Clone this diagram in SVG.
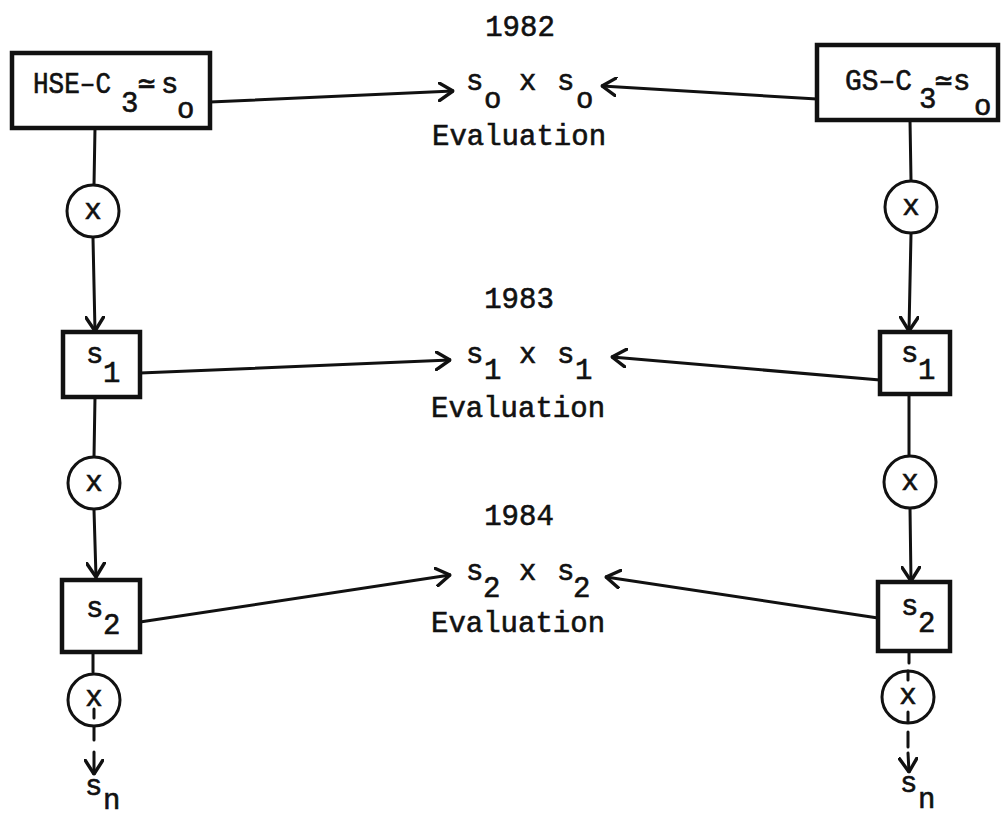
<svg xmlns="http://www.w3.org/2000/svg" width="1001" height="817" viewBox="0 0 1001 817">
<style>
.t{font-family:"Liberation Mono","DejaVu Sans Mono",monospace;font-size:29px;fill:#111;stroke:#111;stroke-width:0.6;}
.b{font-family:"Liberation Mono","DejaVu Sans Mono",monospace;font-size:29px;fill:#111;stroke:#111;stroke-width:0.6;}
.box{fill:#fff;stroke:#111;stroke-width:4.5;}
.cir{fill:#fff;stroke:#111;stroke-width:3;}
.ln{fill:none;stroke:#111;stroke-width:3;stroke-linecap:round;}
</style>
<defs>
<marker id="ah" viewBox="0 0 16 20" refX="15" refY="10" markerWidth="16" markerHeight="20" markerUnits="userSpaceOnUse" orient="auto">
<path d="M1,1 L15,10 L1,19" fill="none" stroke="#111" stroke-width="3.4" stroke-linecap="round" stroke-linejoin="round"/>
</marker>
</defs>
<g id="connectors">
<line class="ln" x1="95" y1="128" x2="94" y2="185"/>
<line class="ln" x1="93" y1="238" x2="95" y2="331" marker-end="url(#ah)"/>
<line class="ln" x1="95" y1="397" x2="94" y2="457"/>
<line class="ln" x1="94" y1="510" x2="96" y2="577" marker-end="url(#ah)"/>
<line class="ln" x1="93" y1="653" x2="93" y2="672"/>
<line class="ln" x1="94" y1="727" x2="94" y2="740"/>
<line class="ln" x1="94" y1="752" x2="94" y2="774" marker-end="url(#ah)"/>
<line class="ln" x1="910" y1="120" x2="911" y2="180"/>
<line class="ln" x1="911" y1="234" x2="909" y2="331" marker-end="url(#ah)"/>
<line class="ln" x1="909" y1="395" x2="909" y2="457"/>
<line class="ln" x1="910" y1="508" x2="911" y2="581" marker-end="url(#ah)"/>
<line class="ln" x1="909" y1="652" x2="909" y2="663"/>
<line class="ln" x1="908" y1="732" x2="908" y2="747"/>
<line class="ln" x1="908" y1="753" x2="909" y2="772" marker-end="url(#ah)"/>
<line class="ln" x1="210" y1="102" x2="453" y2="91" marker-end="url(#ah)"/>
<line class="ln" x1="817" y1="99" x2="602" y2="86" marker-end="url(#ah)"/>
<line class="ln" x1="140" y1="373" x2="450" y2="360" marker-end="url(#ah)"/>
<line class="ln" x1="880" y1="380" x2="612" y2="357" marker-end="url(#ah)"/>
<line class="ln" x1="140" y1="622" x2="450" y2="575" marker-end="url(#ah)"/>
<line class="ln" x1="878" y1="618" x2="606" y2="577" marker-end="url(#ah)"/>
</g>
<g id="hse">
<rect class="box" x="12" y="53" width="198" height="75"/>
<text class="b" x="33" y="93" textLength="78" lengthAdjust="spacingAndGlyphs">HSE–C</text>
<text class="b" x="121" y="112">3</text>
<text class="b" x="138" y="93">≃</text>
<text class="b" x="161" y="93">s</text>
<text class="b" x="177" y="118">o</text>
</g>
<g id="gs">
<rect class="box" x="817" y="45" width="181" height="75"/>
<text class="b" x="845" y="90" textLength="67" lengthAdjust="spacingAndGlyphs">GS–C</text>
<text class="b" x="919" y="108">3</text>
<text class="b" x="935" y="90">≃</text>
<text class="b" x="953" y="90">s</text>
<text class="b" x="974" y="115">o</text>
</g>
<g id="eval1982">
<text class="t" x="520" y="36" text-anchor="middle">1982</text>
<text class="t" x="466" y="90">s</text>
<text class="t" x="484" y="108">o</text>
<text class="t" x="519" y="90">x</text>
<text class="t" x="557" y="90">s</text>
<text class="t" x="576" y="108">o</text>
<text class="t" x="432" y="145">Evaluation</text>
</g>
<g id="eval1983">
<text class="t" x="519" y="308" text-anchor="middle">1983</text>
<text class="t" x="466" y="363">s</text>
<text class="t" x="484" y="379">1</text>
<text class="t" x="519" y="363">x</text>
<text class="t" x="557" y="363">s</text>
<text class="t" x="575" y="379">1</text>
<text class="t" x="431" y="417">Evaluation</text>
</g>
<g id="eval1984">
<text class="t" x="519" y="525" text-anchor="middle">1984</text>
<text class="t" x="466" y="580">s</text>
<text class="t" x="483" y="597">2</text>
<text class="t" x="519" y="580">x</text>
<text class="t" x="557" y="580">s</text>
<text class="t" x="573" y="597">2</text>
<text class="t" x="431" y="632">Evaluation</text>
</g>
<g id="xL1"><circle class="cir" cx="93" cy="211" r="26"/><text class="b" x="93" y="219" text-anchor="middle">x</text></g>
<g id="xL2"><circle class="cir" cx="94" cy="483" r="26"/><text class="b" x="94" y="491" text-anchor="middle">x</text></g>
<g id="xL3"><circle class="cir" cx="94" cy="700" r="26"/><text class="b" x="94" y="706" text-anchor="middle">x</text><line class="ln" x1="94" y1="709" x2="94" y2="718"/></g>
<g id="xR1"><circle class="cir" cx="911" cy="207" r="26"/><text class="b" x="911" y="215" text-anchor="middle">x</text></g>
<g id="xR2"><circle class="cir" cx="910" cy="482" r="26"/><text class="b" x="910" y="490" text-anchor="middle">x</text></g>
<g id="xR3"><circle class="cir" cx="908" cy="697" r="26"/><text class="b" x="908" y="704" text-anchor="middle">x</text><line class="ln" x1="908" y1="712" x2="908" y2="722"/><line class="ln" x1="908" y1="671" x2="908" y2="680"/></g>
<g id="s1L"><rect class="box" x="63" y="332" width="77" height="65"/><text class="b" x="86" y="363">s</text><text class="b" x="103" y="382">1</text></g>
<g id="s1R"><rect class="box" x="880" y="332" width="70" height="62"/><text class="b" x="901" y="362">s</text><text class="b" x="918" y="379">1</text></g>
<g id="s2L"><rect class="box" x="62" y="580" width="78" height="72"/><text class="b" x="86" y="617">s</text><text class="b" x="103" y="634">2</text></g>
<g id="s2R"><rect class="box" x="878" y="582" width="72" height="69"/><text class="b" x="901" y="615">s</text><text class="b" x="918" y="632">2</text></g>
<g id="snL"><text class="b" x="85" y="795">s</text><text class="b" x="103" y="809" font-size="27">n</text></g>
<g id="snR"><text class="b" x="900" y="792">s</text><text class="b" x="918" y="808" font-size="27">n</text></g>
</svg>
